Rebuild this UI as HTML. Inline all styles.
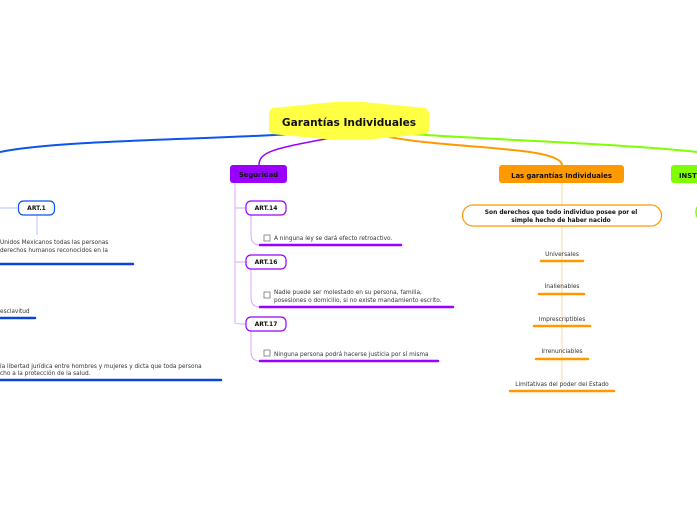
<!DOCTYPE html>
<html><head><meta charset="utf-8"><style>
html,body{margin:0;padding:0;background:#fff;width:697px;height:520px;overflow:hidden}
svg{display:block;font-family:"DejaVu Sans","Liberation Sans",sans-serif}
</style></head><body>
<svg width="697" height="520" viewBox="0 0 697 520">
<path d="M290,134 C200,140 60,140 0,152" stroke="#0a55ee" stroke-width="2" fill="none"/>
<path d="M410,134 C500,140 640,145 697,152" stroke="#80ff00" stroke-width="2" fill="none"/>
<path d="M375,134 C440,150 560,145 562,165" stroke="#ff9900" stroke-width="2" fill="none"/>
<path d="M335,137 C280,148 259,150 259,165" stroke="#9900ff" stroke-width="1.5" fill="none"/>
<polygon points="272,108 335,102 363,102 426,108 429,112 429,131 426,134 363,140 335,140 272,134 269,131 269,112" fill="#ffff44"/>
<text x="349" y="126" text-anchor="middle" font-size="10.6" font-weight="bold" fill="#111">Garantías Individuales</text>

<path d="M235,183 V323 Q235,324 246,324 M235,208 Q236,208 246,208 M235,262 H246" stroke="#d9a6ff" stroke-width="1" fill="none"/>
<rect x="230" y="165" width="57" height="18" rx="3" fill="#9900ff"/>
<text x="258.5" y="177" text-anchor="middle" font-size="6.8" font-weight="bold" fill="#111">Seguridad</text>
<path d="M251,215 V235 Q251,245 260,245 M251,269 V298 Q251,307 260,307 M251,331 V352 Q251,361 260,361" stroke="#d9a6ff" stroke-width="1" fill="none"/>
<g fill="#fff" stroke="#9900ff" stroke-width="1.2">
<rect x="246" y="201" width="40" height="14" rx="5"/>
<rect x="246" y="255" width="40" height="14" rx="5"/>
<rect x="246" y="317" width="40" height="14" rx="5"/>
</g>
<g font-size="6" font-weight="bold" text-anchor="middle" fill="#111">
<text x="266" y="210">ART.14</text><text x="266" y="264">ART.16</text><text x="266" y="326">ART.17</text>
</g>
<g fill="#fff" stroke="#777" stroke-width="0.8">
<rect x="264" y="235" width="6" height="6"/><rect x="264" y="292" width="6" height="6"/><rect x="264" y="350" width="6" height="6"/>
</g>
<g font-size="5.8" fill="#333">
<text x="274" y="240">A ninguna ley se dará efecto retroactivo.</text>
<text x="274" y="294">Nadie puede ser molestado en su persona, familia,</text>
<text x="274" y="302">posesiones o domicilio, si no existe mandamiento escrito.</text>
<text x="274" y="356">Ninguna persona podrá hacerse justicia por sí misma</text>
</g>
<g stroke="#9900ff" stroke-width="2.5" stroke-linecap="round">
<line x1="260" y1="245" x2="401" y2="245"/><line x1="260" y1="307" x2="453" y2="307"/><line x1="260" y1="361" x2="438" y2="361"/>
</g>

<line x1="562" y1="183" x2="562" y2="384" stroke="#ffd9a0" stroke-width="1"/>
<rect x="499" y="165" width="125" height="18" rx="3" fill="#ff9900"/>
<text x="561.5" y="178" text-anchor="middle" font-size="6.8" font-weight="bold" fill="#111">Las garantías Individuales</text>
<rect x="462.5" y="205" width="199" height="21" rx="10.5" fill="#fff" stroke="#ff9900" stroke-width="1.2"/>
<g font-size="5.9" font-weight="bold" text-anchor="middle" fill="#111">
<text x="561" y="214">Son derechos que todo individuo posee por el</text>
<text x="561" y="222">simple hecho de haber nacido</text>
</g>
<g font-size="5.8" text-anchor="middle" fill="#333">
<text x="562" y="256">Universales</text><text x="562" y="288">Inalienables</text><text x="562" y="321">Imprescriptibles</text><text x="562" y="353">Irrenunciables</text><text x="562" y="386">Limitativas del poder del Estado</text>
</g>
<g stroke="#ff9900" stroke-width="2.5" stroke-linecap="round">
<line x1="541" y1="261" x2="583" y2="261"/><line x1="539" y1="294" x2="584" y2="294"/><line x1="534" y1="326" x2="590" y2="326"/><line x1="536" y1="359" x2="588" y2="359"/><line x1="510" y1="391" x2="614" y2="391"/>
</g>

<rect x="671" y="165" width="40" height="18" rx="3" fill="#80ff00"/>
<text x="679" y="178" font-size="6.8" font-weight="bold" fill="#111">INST</text>
<path d="M697,207 Q695,212 697,217" stroke="#80ff00" stroke-width="1.5" fill="none"/>

<path d="M0,208 H18 M37,215 V235" stroke="#a8c4ff" stroke-width="1" fill="none"/>
<rect x="18.5" y="201" width="36" height="14" rx="5" fill="#fff" stroke="#0a55ee" stroke-width="1.2"/>
<text x="36.5" y="210" text-anchor="middle" font-size="6" font-weight="bold" fill="#111">ART.1</text>
<g font-size="5.8" fill="#333">
<text x="0" y="244">Unidos Mexicanos todas las personas</text>
<text x="0" y="252">derechos humanos reconocidos en la</text>
<text x="0" y="313">esclavitud</text>
<text x="0" y="368">la libertad jurídica entre hombres y mujeres y dicta que toda persona</text>
<text x="0" y="375">cho a la protección de la salud.</text>
</g>
<g stroke="#0a44dd" stroke-width="2.5" stroke-linecap="round">
<line x1="0" y1="264" x2="133" y2="264"/><line x1="0" y1="318" x2="35" y2="318"/><line x1="0" y1="380" x2="221" y2="380"/>
</g>
</svg>
</body></html>
